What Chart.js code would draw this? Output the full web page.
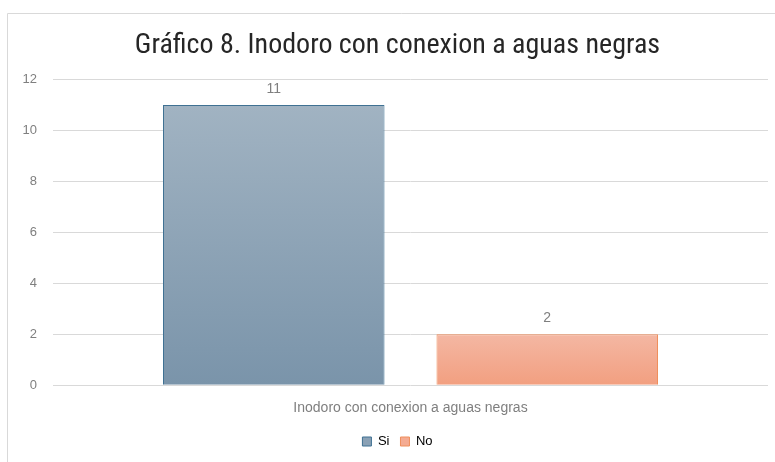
<!DOCTYPE html>
<html>
<head>
<meta charset="utf-8">
<script src="https://cdn.jsdelivr.net/npm/chart.js@4.4.1/dist/chart.umd.min.js"></script>
<style>
  html, body { margin: 0; padding: 0; background: #ffffff; overflow: hidden; }
  #wrap { width: 775px; height: 462px; position: relative; overflow: hidden; }
</style>
</head>
<body>
<div id="wrap"><canvas id="chart" width="795" height="462"></canvas></div>
<script>
// chart data
const categories = ['Inodoro con conexion a aguas negras'];
const seriesNames = ['Si', 'No'];
const siValues = [11];
const noValues = [2];
const yTicks = [0, 2, 4, 6, 8, 10, 12];

// colours: [top of bar, bottom of bar, border]
const siColors = ['#a1b3c2', '#7a94aa', '#3f7193'];
const noColors = ['#f4b7a3', '#f29f80', '#ef8f5c'];
const textGray = '#7f7f7f';

// vertical gradient for each bar, from its top down to the base
function barGradient(colors) {
    return (ctx) => {
        const chart = ctx.chart;
        const yScale = chart.scales.y;
        if (!chart.chartArea || !yScale || ctx.parsed == null) return colors[1];
        const top = yScale.getPixelForValue(ctx.parsed.y);
        const base = yScale.getPixelForValue(0);
        if (!isFinite(top) || !isFinite(base) || top === base) return colors[1];
        const g = chart.ctx.createLinearGradient(0, top, 0, base);
        g.addColorStop(0, colors[0]);
        g.addColorStop(1, colors[1]);
        return g;
    };
}

// value labels above each bar
const valueLabels = {
    id: 'valueLabels',
    afterDatasetsDraw(chart) {
        const ctx = chart.ctx;
        ctx.save();
        ctx.font = '14px "Liberation Sans", Arial, sans-serif';
        ctx.fillStyle = textGray;
        ctx.textAlign = 'center';
        ctx.textBaseline = 'middle';
        chart.data.datasets.forEach((ds, i) => {
            chart.getDatasetMeta(i).data.forEach((bar, j) => {
                ctx.fillText(String(ds.data[j]), bar.x, bar.y - 16);
            });
        });
        ctx.restore();
    }
};

// light frame round the chart, as in the spreadsheet
const frame = {
    id: 'frame',
    beforeDraw(chart) {
        const ctx = chart.ctx;
        ctx.save();
        ctx.strokeStyle = '#d9d9d9';
        ctx.lineWidth = 1;
        ctx.beginPath();
        ctx.moveTo(7.5, chart.height);
        ctx.lineTo(7.5, 13.5);
        ctx.lineTo(chart.width, 13.5);
        ctx.stroke();
        ctx.restore();
    }
};

new Chart(document.getElementById('chart'), {
    type: 'bar',
    data: {
        labels: categories,
        datasets: [
            {
                label: seriesNames[0],
                data: siValues,
                backgroundColor: barGradient(siColors),
                borderColor: siColors[2],
                borderWidth: 1
            },
            {
                label: seriesNames[1],
                data: noValues,
                backgroundColor: barGradient(noColors),
                borderColor: noColors[2],
                borderWidth: 1
            }
        ]
    },
    options: {
        responsive: false,
        animation: false,
        categoryPercentage: 0.765,
        barPercentage: 0.81,
        layout: { padding: { top: 29, right: 0, bottom: 4, left: 0 } },
        plugins: {
            title: {
                display: true,
                text: 'Gráfico 8. Inodoro con conexion a aguas negras',
                color: '#262626',
                font: { family: '"Liberation Sans Narrow", "Roboto Condensed", Arial, sans-serif', size: 28, weight: 'normal' },
                padding: { top: 0, bottom: 17 }
            },
            legend: {
                position: 'bottom',
                labels: {
                    boxWidth: 9,
                    boxHeight: 9,
                    padding: 11,
                    color: textGray,
                    font: { family: '"Liberation Sans", Arial, sans-serif', size: 13 },
                    generateLabels: () => [
                        { text: seriesNames[0], fillStyle: '#8aa1b5', strokeStyle: siColors[2], lineWidth: 1, datasetIndex: 0 },
                        { text: seriesNames[1], fillStyle: '#f4ab92', strokeStyle: noColors[2], lineWidth: 1, datasetIndex: 1 }
                    ]
                }
            },
            tooltip: { enabled: false }
        },
        scales: {
            x: {
                grid: { display: false },
                border: { display: false },
                // keep the plot ending at x=768 while title and legend stay centred on the frame
                afterFit: (scale) => { scale.paddingRight = 27; },
                ticks: {
                    color: textGray,
                    padding: 7,
                    font: { family: '"Liberation Sans", Arial, sans-serif', size: 14 }
                }
            },
            y: {
                min: 0,
                max: 12,
                afterFit: (scale) => { scale.width = 53; },
                afterBuildTicks: (scale) => { scale.ticks = yTicks.map(v => ({ value: v })); },
                grid: { color: '#d9d9d9', drawTicks: false },
                border: { display: false },
                ticks: {
                    color: textGray,
                    padding: 16,
                    font: { family: '"Liberation Sans", Arial, sans-serif', size: 13 }
                }
            }
        }
    },
    plugins: [frame, valueLabels]
});
</script>
</body>
</html>
